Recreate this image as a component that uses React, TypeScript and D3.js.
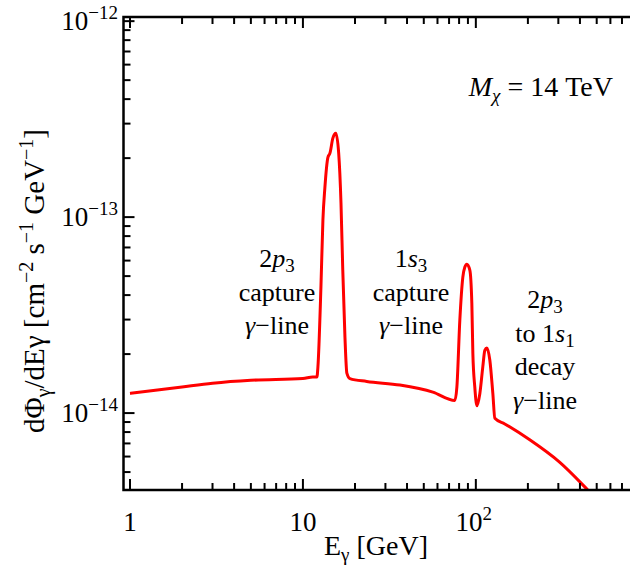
import React from "react";
import * as d3 from "d3";

const energy = [1, 2, 3, 5, 10, 11.4, 12.05, 12.21, 12.71, 13.05, 13.4, 13.95, 14.33, 14.9, 15.5, 16.1, 16.6, 17.0, 17.5, 17.95, 18.7, 23.4, 36.4, 56.4, 75.6, 77.7, 80.8, 84.1, 86.4, 88.7, 92.3, 94.8, 96.1, 98.6, 101.4, 105.5, 109.7, 112.7, 115.8, 120.5, 125.4, 128.8, 147, 205, 306, 444, 521];
const flux = [1.26e-14, 1.36e-14, 1.42e-14, 1.47e-14, 1.5e-14, 1.53e-14, 1.53e-14, 1.72e-14, 4.4e-14, 9.66e-14, 1.42e-13, 2.02e-13, 2.12e-13, 2.53e-13, 2.68e-13, 2.12e-13, 1.18e-13, 5.37e-14, 2.44e-14, 1.6e-14, 1.5e-14, 1.45e-14, 1.39e-14, 1.28e-14, 1.16e-14, 1.36e-14, 2.98e-14, 4.94e-14, 5.56e-14, 5.75e-14, 5.37e-14, 3.64e-14, 2.02e-14, 1.36e-14, 1.09e-14, 1.26e-14, 1.72e-14, 2.09e-14, 2.15e-14, 1.86e-14, 1.26e-14, 9.4e-15, 8.8e-15, 7.3e-15, 5.6e-15, 4.05e-15, 3.5e-15];

const xMajor = [1, 10, 100];
const xMajorLabels = ["1", "10", "10^2"];
const yMajor = [1e-12, 1e-13, 1e-14];
const yMajorLabels = ["−12", "−13", "−14"];

const annotations = [
  { x: 277, lines: ["2p3", "capture", "γ−line"] },
  { x: 411, lines: ["1s3", "capture", "γ−line"] },
  { x: 545, lines: ["2p3", "to 1s1", "decay", "γ−line"] },
];

const FONT = "Liberation Serif, DejaVu Serif, Times New Roman, serif";

function AnnLine({ s }: { s: string }) {
  const m = s.match(/^(.*?)(\d)([ps])(\d)$/);
  if (m) {
    return (
      <>
        <tspan>{m[1]}{m[2]}</tspan>
        <tspan fontStyle="italic">{m[3]}</tspan>
        <tspan fontSize="19" dy="5">{m[4]}</tspan>
      </>
    );
  }
  if (s.startsWith("γ")) {
    return (
      <>
        <tspan fontStyle="italic">γ</tspan>
        <tspan>{s.slice(1)}</tspan>
      </>
    );
  }
  return <tspan>{s}</tspan>;
}

export default function App() {
  const W = 630, H = 568;
  const left = 123.5, right = 632, top = 17, bottom = 490;
  const x = d3.scaleLog().domain([0.917, 800]).range([left, right]);
  const y = d3.scaleLog().domain([4.05e-15, 1.05e-12]).range([bottom, top]);

  const pts: [number, number][] = energy.map((e, i) => [x(e), y(flux[i])]);
  const path = d3.line().curve(d3.curveMonotoneX)(pts) || "";

  const xMinor: number[] = [];
  for (const dec of [1, 10, 100]) for (let k = 2; k <= 9; k++) if (dec * k <= 800) xMinor.push(dec * k);
  const yMinor: number[] = [];
  for (const dec of [1e-15, 1e-14, 1e-13]) for (let k = 2; k <= 9; k++) {
    const v = dec * k;
    if (v >= 4.05e-15 && v <= 1.05e-12) yMinor.push(v);
  }

  const majL = 11, minL = 7;
  const ts = { fontFamily: FONT };

  return (
    <svg width={W} height={H} style={{ position: "absolute", left: 0, top: 0, background: "#fff", fontFamily: FONT }}>
      <defs>
        <clipPath id="plotclip">
          <rect x={left} y={top} width={right - left} height={bottom - top} />
        </clipPath>
      </defs>
      <rect x={0} y={0} width={W} height={H} fill="#fff" />
      <path d={path} fill="none" stroke="#ff0000" strokeWidth={3} clipPath="url(#plotclip)" strokeLinejoin="round" />

      <g stroke="#000" strokeWidth={2}>
        {xMajor.map((v) => (
          <g key={"xM" + v}>
            <line x1={x(v)} x2={x(v)} y1={bottom} y2={bottom - majL} />
            <line x1={x(v)} x2={x(v)} y1={top} y2={top + majL} />
          </g>
        ))}
        {xMinor.map((v) => (
          <g key={"xm" + v}>
            <line x1={x(v)} x2={x(v)} y1={bottom} y2={bottom - minL} />
            <line x1={x(v)} x2={x(v)} y1={top} y2={top + minL} />
          </g>
        ))}
        {yMajor.map((v) => (
          <line key={"yM" + v} x1={left} x2={left + majL} y1={y(v)} y2={y(v)} />
        ))}
        {yMinor.map((v) => (
          <line key={"ym" + v} x1={left} x2={left + minL} y1={y(v)} y2={y(v)} />
        ))}
      </g>
      <rect x={left} y={top} width={right - left} height={bottom - top} fill="none" stroke="#000" strokeWidth={2.5} />

      {xMajor.map((v, i) => {
        const lab = xMajorLabels[i];
        if (lab.includes("^")) {
          const [b, e] = lab.split("^");
          return (
            <text key={"xl" + v} x={x(v) - 2} y={531} fontSize={27} textAnchor="middle" style={ts}>
              {b}
              <tspan fontSize={19} dy={-11}>{e}</tspan>
            </text>
          );
        }
        return (
          <text key={"xl" + v} x={x(v)} y={531} fontSize={27} textAnchor="middle" style={ts}>{lab}</text>
        );
      })}
      {yMajor.map((v, i) => (
        <text key={"yl" + v} x={118} y={y(v) + 9} fontSize={27} textAnchor="end" style={ts}>
          10<tspan fontSize={19} dy={-11}>{yMajorLabels[i]}</tspan>
        </text>
      ))}

      <text x={376} y={555} fontSize={28} textAnchor="middle" style={ts}>
        E<tspan fontSize={19} dy={6}>γ</tspan><tspan dy={-6}> [GeV]</tspan>
      </text>
      <text transform="translate(44,281) rotate(-90)" fontSize={29} textAnchor="middle" style={ts}>
        dΦ<tspan fontSize={20} dy={6}>γ</tspan><tspan dy={-6}>/dEγ [cm</tspan>
        <tspan fontSize={20} dy={-11}>−2</tspan><tspan dy={11}> s</tspan>
        <tspan fontSize={20} dy={-11}>−1</tspan><tspan dy={11}> GeV</tspan>
        <tspan fontSize={20} dy={-11}>−1</tspan><tspan dy={11}>]</tspan>
      </text>

      <text x={613} y={96} fontSize={28} textAnchor="end" style={ts}>
        <tspan fontStyle="italic">M</tspan>
        <tspan fontSize={19} dy={6} fontStyle="italic">χ</tspan>
        <tspan dy={-6}> = 14 TeV</tspan>
      </text>

      {annotations.map((a, ai) => {
        const baseY = ai === 2 ? 308 : 267;
        return (
          <g key={"ann" + ai}>
            {a.lines.map((l, li) => (
              <text key={li} x={a.x} y={baseY + li * 33.5} fontSize={26} textAnchor="middle" style={ts}>
                <AnnLine s={l} />
              </text>
            ))}
          </g>
        );
      })}
    </svg>
  );
}
